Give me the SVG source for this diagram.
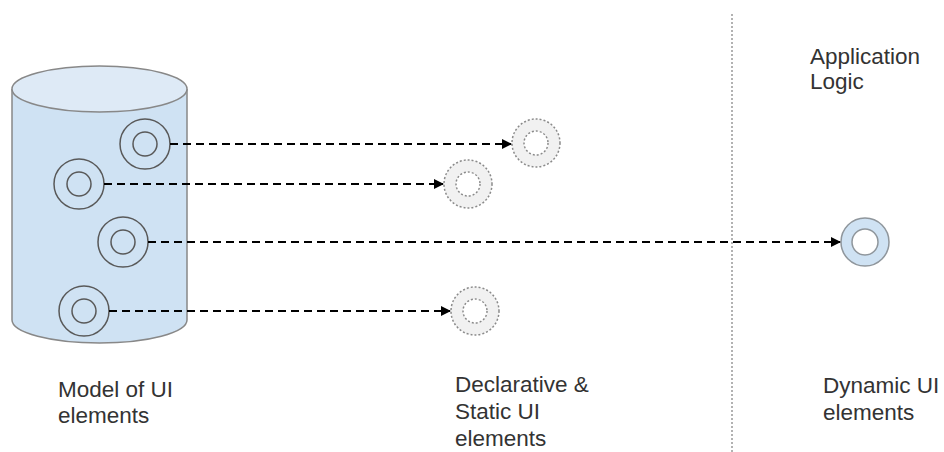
<svg xmlns="http://www.w3.org/2000/svg" width="944" height="452" viewBox="0 0 944 452">
<style>
text{font-family:"Liberation Sans",Arial,sans-serif;font-size:22.5px;fill:#333}
.ring{fill:none;stroke:#595959;stroke-width:1.5}
.st{fill:#f1f1f1;stroke:#8a8a8a;stroke-width:1.5;stroke-dasharray:2,2}
.sti{fill:#fff;stroke:#8a8a8a;stroke-width:1.5;stroke-dasharray:2,2}
.dyn{fill:#cfe2f3;stroke:#8f969c;stroke-width:1.5}
.dyni{fill:#fff;stroke:#8f969c;stroke-width:1.5}
.conn{fill:none;stroke:#000;stroke-width:2;stroke-dasharray:8,5}
</style>
<defs>
<marker id="ah" markerWidth="10" markerHeight="10" refX="9" refY="5" orient="auto" markerUnits="userSpaceOnUse">
<path d="M0,0 L10,5 L0,10 z" fill="#000"/>
</marker>
</defs>
<rect width="944" height="452" fill="#fff"/>
<g id="model">
<path d="M12,89 L12,320 A87.5,23 0 0 0 187,320 L187,89" fill="#cfe2f3" stroke="#888" stroke-width="1.5"/>
<ellipse cx="99.5" cy="89" rx="87.5" ry="23" fill="#deeaf6" stroke="#888" stroke-width="1.5"/>
<circle class="ring" cx="145" cy="144" r="25"/><circle class="ring" cx="145" cy="144" r="12"/>
<circle class="ring" cx="79" cy="184" r="25"/><circle class="ring" cx="79" cy="184" r="12"/>
<circle class="ring" cx="123" cy="242" r="25"/><circle class="ring" cx="123" cy="242" r="12"/>
<circle class="ring" cx="84" cy="311" r="25"/><circle class="ring" cx="84" cy="311" r="12"/>
</g>
<g id="static1"><circle class="st" cx="536" cy="143" r="24"/><circle class="sti" cx="536" cy="143" r="12"/></g>
<g id="static2"><circle class="st" cx="468" cy="184" r="24"/><circle class="sti" cx="468" cy="184" r="12"/></g>
<g id="static3"><circle class="st" cx="475" cy="311" r="24"/><circle class="sti" cx="475" cy="311" r="12"/></g>
<g id="dynamic"><circle class="dyn" cx="865" cy="242" r="24"/><circle class="dyni" cx="865" cy="242" r="13"/></g>
<g id="divider"><line x1="732" y1="14" x2="732" y2="452" stroke="#999" stroke-width="1.5" stroke-dasharray="2,2"/></g>
<g id="connectors">
<line class="conn" x1="170" y1="144" x2="511" y2="144" marker-end="url(#ah)"/>
<line class="conn" x1="104" y1="184" x2="443" y2="184" marker-end="url(#ah)"/>
<line class="conn" x1="148" y1="242" x2="840" y2="242" marker-end="url(#ah)"/>
<line class="conn" x1="109" y1="311" x2="450" y2="311" marker-end="url(#ah)"/>
</g>
<g id="labels">
<text x="58" y="397">Model of UI</text>
<text x="58" y="423">elements</text>
<text x="455" y="392">Declarative &amp;</text>
<text x="455" y="419">Static UI</text>
<text x="455" y="446">elements</text>
<text x="823" y="393">Dynamic UI</text>
<text x="823" y="420">elements</text>
<text x="810" y="64">Application</text>
<text x="810" y="89">Logic</text>
</g>
</svg>
